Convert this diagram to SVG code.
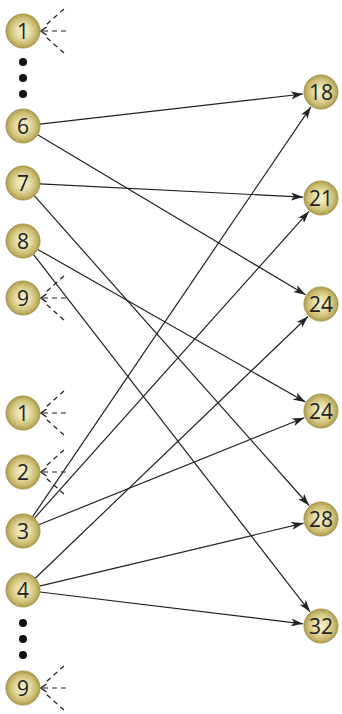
<svg xmlns="http://www.w3.org/2000/svg" width="342" height="714" viewBox="0 0 342 714">
<defs>
<radialGradient id="g" cx="50%" cy="50%" r="50%">
<stop offset="0" stop-color="#f6f1d2"/>
<stop offset="0.4" stop-color="#e9dfa8"/>
<stop offset="0.78" stop-color="#cbbc72"/>
<stop offset="1" stop-color="#ad9c4f"/>
</radialGradient>
<marker id="ah" viewBox="0 0 12 8" refX="12" refY="4" markerWidth="12" markerHeight="8" markerUnits="userSpaceOnUse" orient="auto">
<path d="M0,0 L12,4 L0,8 L3,4 Z" fill="#222"/>
</marker>
<marker id="oh" viewBox="0 0 8 10" refX="7" refY="5" markerWidth="8" markerHeight="10" markerUnits="userSpaceOnUse" orient="auto">
<path d="M1.5,1 L7,5 L1.5,9" fill="none" stroke="#222" stroke-width="1.4"/>
</marker>
</defs>
<style>
.n circle{fill:url(#g);stroke:#a8974c;stroke-width:1}
.n text{font-family:"Open Sans","Liberation Sans",sans-serif;font-weight:400;font-size:21px;fill:#222;text-anchor:middle;dominant-baseline:central}
.e{stroke:#222;stroke-width:1.2;fill:none;marker-end:url(#ah)}
.d{stroke:#222;stroke-width:1.2;fill:none;stroke-dasharray:5,4}
.dot{fill:#111}
</style>
<g id="connectors">
<line class="e" x1="39.9" y1="124.1" x2="303.1" y2="94.0"/>
<line class="e" x1="37.6" y1="134.7" x2="305.5" y2="294.8"/>
<line class="e" x1="40" y1="183.9" x2="303" y2="197.1"/>
<line class="e" x1="34.3" y1="195.7" x2="309.1" y2="505.5"/>
<line class="e" x1="37.8" y1="249.4" x2="305.4" y2="402.1"/>
<line class="e" x1="33.4" y1="254.4" x2="310" y2="611.8"/>
<line class="e" x1="32.5" y1="516.9" x2="310.9" y2="106.9"/>
<line class="e" x1="34.3" y1="518.3" x2="309" y2="211.4"/>
<line class="e" x1="38.8" y1="524.7" x2="304.3" y2="417.7"/>
<line class="e" x1="35.3" y1="578.2" x2="308" y2="316.5"/>
<line class="e" x1="39.5" y1="586.1" x2="303.5" y2="523.2"/>
<line class="e" x1="39.9" y1="592" x2="303.1" y2="623.8"/>
</g>
<g id="incoming">
<g transform="translate(0,31)"><path class="d" d="M64,-22 L46,-6 M64,22 L46,6"/><path class="d" d="M66,0 L41,0" marker-end="url(#oh)"/></g>
<g transform="translate(0,298)"><path class="d" d="M64,-22 L46,-6 M64,22 L46,6"/><path class="d" d="M66,0 L41,0" marker-end="url(#oh)"/></g>
<g transform="translate(0,413)"><path class="d" d="M64,-22 L46,-6 M64,22 L46,6"/><path class="d" d="M66,0 L41,0" marker-end="url(#oh)"/></g>
<g transform="translate(0,472)"><path class="d" d="M64,-22 L46,-6 M64,22 L46,6"/><path class="d" d="M66,0 L41,0" marker-end="url(#oh)"/></g>
<g transform="translate(0,688)"><path class="d" d="M64,-22 L46,-6 M64,22 L46,6"/><path class="d" d="M66,0 L41,0" marker-end="url(#oh)"/></g>
</g>
<g id="ellipsis">
<circle class="dot" cx="23" cy="62" r="4"/>
<circle class="dot" cx="23" cy="78" r="4"/>
<circle class="dot" cx="23" cy="94" r="4"/>
<circle class="dot" cx="23" cy="623" r="4"/>
<circle class="dot" cx="23" cy="639" r="4"/>
<circle class="dot" cx="23" cy="655" r="4"/>
</g>
<g id="L1a" class="n"><circle cx="23" cy="31" r="17"/><text x="23" y="31">1</text></g>
<g id="L6" class="n"><circle cx="23" cy="126" r="17"/><text x="23" y="126">6</text></g>
<g id="L7" class="n"><circle cx="23" cy="183" r="17"/><text x="23" y="183">7</text></g>
<g id="L8" class="n"><circle cx="23" cy="241" r="17"/><text x="23" y="241">8</text></g>
<g id="L9a" class="n"><circle cx="23" cy="298" r="17"/><text x="23" y="298">9</text></g>
<g id="L1b" class="n"><circle cx="23" cy="413" r="17"/><text x="23" y="413">1</text></g>
<g id="L2" class="n"><circle cx="23" cy="472" r="17"/><text x="23" y="472">2</text></g>
<g id="L3" class="n"><circle cx="23" cy="531" r="17"/><text x="23" y="531">3</text></g>
<g id="L4" class="n"><circle cx="23" cy="590" r="17"/><text x="23" y="590">4</text></g>
<g id="L9b" class="n"><circle cx="23" cy="688" r="17"/><text x="23" y="688">9</text></g>
<g id="R18" class="n"><circle cx="321" cy="92" r="17"/><text x="321" y="92">18</text></g>
<g id="R21" class="n"><circle cx="321" cy="198" r="17"/><text x="321" y="198">21</text></g>
<g id="R24a" class="n"><circle cx="321" cy="304" r="17"/><text x="321" y="304">24</text></g>
<g id="R24b" class="n"><circle cx="321" cy="411" r="17"/><text x="321" y="411">24</text></g>
<g id="R28" class="n"><circle cx="321" cy="519" r="17"/><text x="321" y="519">28</text></g>
<g id="R32" class="n"><circle cx="321" cy="626" r="17"/><text x="321" y="626">32</text></g>
</svg>
